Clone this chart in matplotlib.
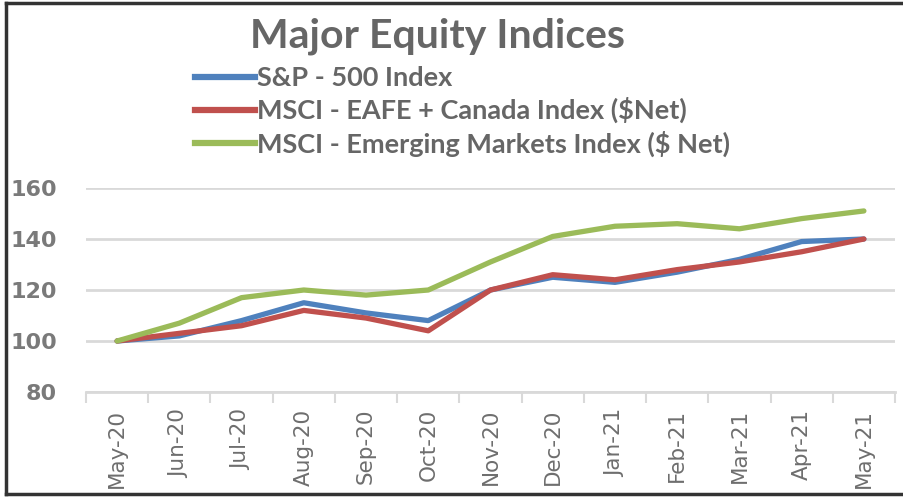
import matplotlib
matplotlib.use("Agg")
import matplotlib.pyplot as plt
from matplotlib.lines import Line2D

months = ["May-20", "Jun-20", "Jul-20", "Aug-20", "Sep-20", "Oct-20", "Nov-20",
          "Dec-20", "Jan-21", "Feb-21", "Mar-21", "Apr-21", "May-21"]
sp500 = [100, 102, 108, 115, 111, 108, 120, 125, 123, 127, 132, 139, 140]
eafe = [100, 103, 106, 112, 109, 104, 120, 126, 124, 128, 131, 135, 140]
emerging = [100, 107, 117, 120, 118, 120, 131, 141, 145, 146, 144, 148, 151]
series_names = ["S&P - 500 Index",
                "MSCI - EAFE + Canada Index ($Net)",
                "MSCI - Emerging Markets Index ($ Net)"]
yticks = [80, 100, 120, 140, 160]

colors = ["#4f81bd", "#c0504d", "#9bbb59"]
txt = "#666666"
grid = "#d9d9d9"

fig = plt.figure(figsize=(9.04, 4.97), dpi=100)
ax = fig.add_axes([86 / 904, 105 / 497, 809 / 904, 204 / 497])

x = list(range(len(months)))
for vals, c in zip([sp500, eafe, emerging], colors):
    ax.plot(x, vals, color=c, lw=3.8, solid_capstyle="round", zorder=3)

ax.set_xlim(-0.5, len(months) - 0.5)
ax.set_ylim(80, 160)
ax.set_yticks(yticks)
ax.set_yticklabels([str(v) for v in yticks], fontsize=16, fontweight="bold",
                   color="#7a7a7a", family="DejaVu Sans")
ax.tick_params(axis="y", length=0, pad=21)
ax.yaxis.grid(True, color=grid, lw=2)
ax.set_axisbelow(True)

ax.set_xticks(x)
ax.set_xticklabels(months, rotation=90, fontsize=15.5, color="#6e6e6e",
                   family="DejaVu Sans")
ax.tick_params(axis="x", length=0, pad=12)
ax.set_xticks([i - 0.5 for i in range(len(months) + 1)], minor=True)
ax.tick_params(axis="x", which="minor", length=8, width=1.5, color=grid)

for s in ["top", "right", "left"]:
    ax.spines[s].set_visible(False)
ax.spines["bottom"].set_color(grid)
ax.spines["bottom"].set_linewidth(2)

fig.text(438 / 904, 1 - 36 / 497, "Major Equity Indices", ha="center", va="center",
         fontsize=29.5, fontweight="bold", color=txt, family="Lato")

handles = [Line2D([], [], color=c, lw=4.5) for c in colors]
fig.legend(handles, series_names, loc="upper left",
           bbox_to_anchor=(195 / 904, 1 - 66 / 497), frameon=False,
           prop={"family": "Lato", "weight": "bold", "size": 19.5},
           labelcolor=txt, handlelength=2.2, handletextpad=0.1,
           labelspacing=0.26, borderpad=0, borderaxespad=0)

# outer frame: left, top and bottom edges only
fig.add_artist(Line2D([6 / 904, 6 / 904], [3 / 497, 1 - 3 / 497], color="#333333",
                      lw=2.5, transform=fig.transFigure))
fig.add_artist(Line2D([6 / 904, 1], [1 - 3 / 497, 1 - 3 / 497], color="#333333",
                      lw=2.5, transform=fig.transFigure))
fig.add_artist(Line2D([6 / 904, 1], [3 / 497, 3 / 497], color="#333333",
                      lw=2.5, transform=fig.transFigure))

fig.savefig("out.png", dpi=100)
